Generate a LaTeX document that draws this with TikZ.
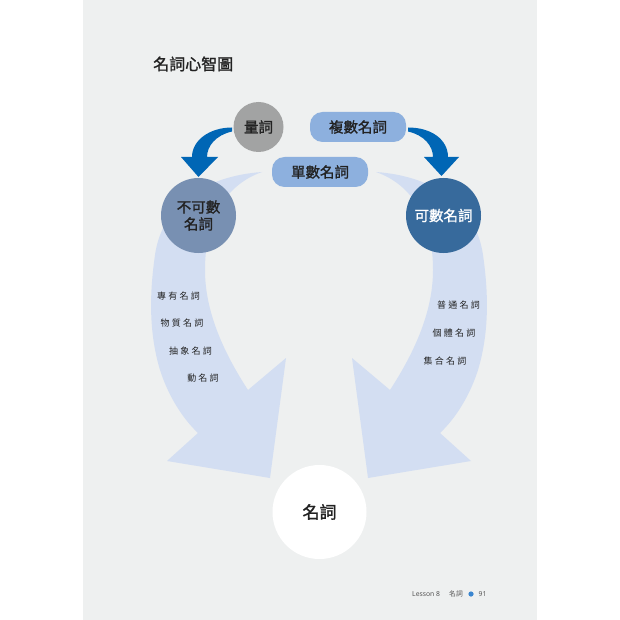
\documentclass[tikz,border=0pt]{standalone}
\usepackage{fontspec}
\setmainfont{Noto Sans CJK TC}
\newfontfamily\medfont{Noto Sans CJK TC}[FakeBold=1.3]
\newfontfamily\latinfont{Noto Sans}
\definecolor{pagebg}{HTML}{EEF0F0}
\definecolor{bandblue}{HTML}{D3DEF2}
\definecolor{darkarrow}{HTML}{0066B5}
\definecolor{qgray}{HTML}{A2A3A3}
\definecolor{pillblue}{HTML}{8DB0DE}
\definecolor{uncount}{HTML}{7890B2}
\definecolor{countblue}{HTML}{376A9C}
\definecolor{ink}{HTML}{222222}
\definecolor{footgray}{HTML}{555555}
\definecolor{dotblue}{HTML}{3A86D0}
\newcommand\lsp{\kern2.2pt}
\begin{document}
\begin{tikzpicture}[x=1pt,y=-1pt,
  lab/.style={inner sep=0pt, text=ink, font=\fontsize{14.5}{17}\selectfont\medfont},
  ball/.style={circle, inner sep=0pt, align=center, lab},
  pill/.style={rounded corners=12.5pt, fill=pillblue, minimum width=96pt, minimum height=30pt, lab},
  item/.style={inner sep=0pt, text=ink, font=\fontsize{9}{10}\selectfont},
  foot/.style={inner sep=0pt, anchor=west, text=footgray, font=\fontsize{6.8}{8}\selectfont}]
\useasboundingbox (0,0) rectangle (620,620);
\fill[white] (0,0) rectangle (620,620);
\fill[pagebg] (83,0) rectangle (537,620);
% light bands
\fill[bandblue] (262,172) .. controls (205,176) and (162,205) .. (155,255)
  .. controls (150,290) and (148,330) .. (160,370)
  .. controls (168,395) and (182,418) .. (198,433)
  -- (167,461) -- (270,478) -- (286,358) -- (248,390)
  .. controls (222,350) and (205,310) .. (205,270)
  .. controls (205,220) and (225,185) .. (262,172) -- cycle;
\fill[bandblue] (376,172) .. controls (433,176) and (476,205) .. (483,255)
  .. controls (488,290) and (490,330) .. (478,370)
  .. controls (470,395) and (456,418) .. (440,433)
  -- (471,461) -- (368,478) -- (352,358) -- (390,390)
  .. controls (416,350) and (433,310) .. (433,270)
  .. controls (433,220) and (413,185) .. (376,172) -- cycle;
% dark arrows
\fill[darkarrow] (232,127.5) .. controls (210,127.5) and (192,140) .. (192,157)
  -- (181,157) -- (198.5,177) -- (218,157) -- (207,157)
  .. controls (207,146) and (216,135) .. (232,131.5) -- cycle;
\fill[darkarrow] (408,127.5) .. controls (432,127.5) and (448,140) .. (448,157)
  -- (459,157) -- (441.5,176) -- (424,157) -- (433,157)
  .. controls (433,146) and (424,135) .. (408,131.5) -- cycle;
% title
\node[anchor=west, inner sep=0pt, text=ink, font=\fontsize{16}{18}\selectfont\medfont] (title) at (153,64) {名詞心智圖};
% nodes
\node[ball, fill=qgray, minimum size=50pt] (liang) at (258.5,127) {量詞};
\node[pill] (fushu) at (358,127) {複數名詞};
\node[pill] (danshu) at (320,172) {單數名詞};
\node[ball, fill=uncount, minimum size=75pt] (bukeshu) at (198.5,215.5) {不可數\\名詞};
\node[ball, fill=countblue, minimum size=75pt, text=white] (keshu) at (443.5,215.5) {可數名詞};
\node[ball, fill=white, minimum size=94pt, font=\fontsize{17}{19}\selectfont\medfont] (mingci) at (319.5,512) {名詞};
% items
\node[item] (i1) at (178.5,296) {專\lsp 有\lsp 名\lsp 詞};
\node[item] (i2) at (182,323) {物\lsp 質\lsp 名\lsp 詞};
\node[item] (i3) at (190.5,351) {抽\lsp 象\lsp 名\lsp 詞};
\node[item] (i4) at (203,378) {動\lsp 名\lsp 詞};
\node[item] (j1) at (458.5,305) {普\lsp 通\lsp 名\lsp 詞};
\node[item] (j2) at (454,333) {個\lsp 體\lsp 名\lsp 詞};
\node[item] (j3) at (445,361) {集\lsp 合\lsp 名\lsp 詞};
% footer
\node[foot] (lesson) at (412,594) {\latinfont Lesson 8};
\node[foot] (chap) at (449,594) {名詞};
\fill[dotblue] (471,594) circle[radius=2.6];
\node[foot] (page) at (478.5,594) {\latinfont 91};
\end{tikzpicture}
\end{document}
